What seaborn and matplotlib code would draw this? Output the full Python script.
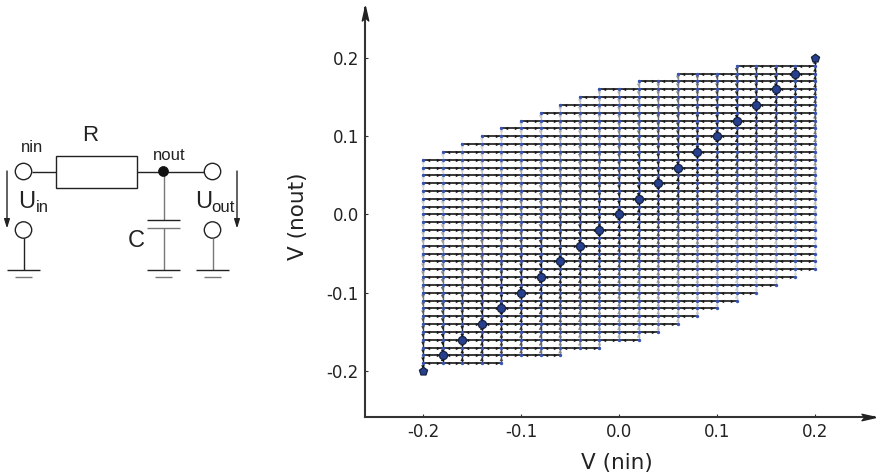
import numpy as np
import pandas as pd
import seaborn as sns
import matplotlib
matplotlib.use("Agg")
import matplotlib.pyplot as plt
from matplotlib.path import Path
from matplotlib.patches import Circle, Rectangle
from matplotlib.colors import LinearSegmentedColormap

# ---- data ----
row_levels = [-0.19, -0.18, -0.17, -0.16, -0.15, -0.14, -0.13, -0.12, -0.11, -0.10,
              -0.09, -0.08, -0.07, -0.06, -0.05, -0.04, -0.03, -0.02, -0.01, 0.00,
              0.01, 0.02, 0.03, 0.04, 0.05, 0.06, 0.07, 0.08, 0.09, 0.10,
              0.11, 0.12, 0.13, 0.14, 0.15, 0.16, 0.17, 0.18, 0.19]
row_start = [-0.20, -0.20, -0.20, -0.20, -0.20, -0.20, -0.20, -0.20, -0.20, -0.20,
             -0.20, -0.20, -0.20, -0.20, -0.20, -0.20, -0.20, -0.20, -0.20, -0.20,
             -0.20, -0.20, -0.20, -0.20, -0.20, -0.20, -0.20, -0.18, -0.16, -0.14,
             -0.12, -0.10, -0.08, -0.06, -0.04, -0.02, 0.02, 0.06, 0.12]
row_end = [-0.12, -0.06, -0.02, 0.02, 0.04, 0.06, 0.08, 0.10, 0.12, 0.14,
           0.16, 0.18, 0.20, 0.20, 0.20, 0.20, 0.20, 0.20, 0.20, 0.20,
           0.20, 0.20, 0.20, 0.20, 0.20, 0.20, 0.20, 0.20, 0.20, 0.20,
           0.20, 0.20, 0.20, 0.20, 0.20, 0.20, 0.20, 0.20, 0.20]
column_levels = [-0.20, -0.18, -0.16, -0.14, -0.12, -0.10, -0.08, -0.06, -0.04, -0.02,
                 0.00, 0.02, 0.04, 0.06, 0.08, 0.10, 0.12, 0.14, 0.16, 0.18, 0.20]
equilibrium_in = [-0.18, -0.16, -0.14, -0.12, -0.10, -0.08, -0.06, -0.04, -0.02,
                  0.00, 0.02, 0.04, 0.06, 0.08, 0.10, 0.12, 0.14, 0.16, 0.18]
equilibrium_out = list(equilibrium_in)
corner_in = [-0.20, 0.20]
corner_out = [-0.20, 0.20]
x_ticks = [-0.2, -0.1, 0.0, 0.1, 0.2]
y_ticks = [-0.2, -0.1, 0.0, 0.1, 0.2]

# ---- tables built from the arrays ----
h_rows, grid_pts, h_heads = [], [], []
for k, (y, a, b) in enumerate(zip(row_levels, row_start, row_end)):
    xs = [c for c in column_levels if a - 1e-9 <= c <= b + 1e-9]
    for x in xs:
        h_rows.append((k, x, y))
        grid_pts.append((x, y))
    for x0, x1 in zip(xs[:-1], xs[1:]):
        h_heads.append((x0 + (x1 - x0) * 0.25, y, "<"))
        h_heads.append((x0 + (x1 - x0) * 0.75, y, ">"))
h_df = pd.DataFrame(h_rows, columns=["row", "x", "y"])
pts_df = pd.DataFrame(grid_pts, columns=["x", "y"])
hh_df = pd.DataFrame(h_heads, columns=["x", "y", "m"])

v_rows, v_heads, sid = [], [], 0
for c in column_levels:
    ys = [y for y, a, b in zip(row_levels, row_start, row_end) if a - 1e-9 <= c <= b + 1e-9]
    if abs(c) > 0.199:
        ys = sorted(set(ys + [c]))
    for y0, y1 in zip(ys[:-1], ys[1:]):
        mid = 0.5 * (y0 + y1)
        s = abs(c - mid)
        v_rows += [(sid, c, y0, s), (sid, c, y1, s)]
        v_heads.append((c, mid, s, "^" if c > mid else "v"))
        sid += 1
v_df = pd.DataFrame(v_rows, columns=["seg", "x", "y", "dist"])
vh_df = pd.DataFrame(v_heads, columns=["x", "y", "dist", "m"])

# ---- figure ----
sns.set_theme(style="white")
plt.rcParams["font.family"] = ["DejaVu Sans"]
plt.rcParams["axes.unicode_minus"] = False
fig = plt.figure(figsize=(8.76, 4.75), dpi=100)
W, H = 876, 475
ax = fig.add_axes([365 / W, 1 - 417 / H, (874 - 365) / W, (417 - 8) / H])

fade = LinearSegmentedColormap.from_list(
    "fade", [(0, "#111111"), (0.17, "#303030"), (0.42, "#808080"), (0.75, "#bdbdbd"), (1, "#dddddd")])
norm = plt.Normalize(0.0, 0.24)

sns.lineplot(data=v_df, x="x", y="y", units="seg", estimator=None, sort=False,
             hue="dist", palette=fade, hue_norm=norm, linewidth=1.0, legend=False, ax=ax, zorder=2)
for m, sub in vh_df.groupby("m"):
    sns.scatterplot(data=sub, x="x", y="y", hue="dist", palette=fade, hue_norm=norm,
                    marker=m, s=7, linewidth=0, legend=False, ax=ax, zorder=2.2)
sns.lineplot(data=h_df, x="x", y="y", units="row", estimator=None, sort=False,
             color="#2a2a2a", linewidth=1.3, legend=False, ax=ax, zorder=3)
for m, sub in hh_df.groupby("m"):
    sns.scatterplot(data=sub, x="x", y="y", color="#1a1a1a", marker=m, s=6, linewidth=0,
                    legend=False, ax=ax, zorder=3.2)
sns.scatterplot(data=pts_df, x="x", y="y", color="#3953b3", marker="o", s=6, linewidth=0,
                legend=False, ax=ax, zorder=4)
sns.scatterplot(x=equilibrium_in, y=equilibrium_out, color="#26408f", marker="o", s=34,
                edgecolor="#14213f", linewidth=0.9, legend=False, ax=ax, zorder=5)
sns.scatterplot(x=corner_in, y=corner_out, color="#26408f", marker="p", s=38,
                edgecolor="#14213f", linewidth=0.9, legend=False, ax=ax, zorder=5)

ax.set_xlim(-0.2592, 0.2602)
ax.set_ylim(-0.2588, 0.2639)
ax.set_xticks(x_ticks)
ax.set_yticks(y_ticks)
ax.set_xticklabels([f"{t:.1f}" for t in x_ticks])
ax.set_yticklabels([f"{t:.1f}" for t in y_ticks])
ax.tick_params(axis="both", direction="in", length=2.2, width=0.8, color="#333333",
               labelsize=12, labelcolor="#222222", left=True, bottom=True)
ax.tick_params(axis="y", pad=4.5)
ax.tick_params(axis="x", pad=4.5)
ax.set_xlabel("")
ax.set_ylabel("")
for name in ("top", "right"):
    ax.spines[name].set_visible(False)
for name in ("left", "bottom"):
    ax.spines[name].set_color("#333333")
    ax.spines[name].set_linewidth(1.5)
ax.patch.set_alpha(0)

head_up = Path([(0, 1), (0.42, -0.85), (0, -0.45), (-0.42, -0.85), (0, 1)],
               [Path.MOVETO, Path.LINETO, Path.LINETO, Path.LINETO, Path.CLOSEPOLY])
head_right = Path([(1, 0), (-0.85, 0.42), (-0.45, 0), (-0.85, -0.42), (1, 0)],
                  [Path.MOVETO, Path.LINETO, Path.LINETO, Path.LINETO, Path.CLOSEPOLY])
ax.plot([0], [0.985], transform=ax.transAxes, marker=head_up, ms=11, color="#222222",
        clip_on=False, zorder=6)
ax.plot([0.988], [0], transform=ax.transAxes, marker=head_right, ms=11, color="#222222",
        clip_on=False, zorder=6)

fig.text(617 / W, 1 - 469 / H, "V (nin)", ha="center", va="baseline", fontsize=15.5, color="#222222")
fig.text(298 / W, 1 - 216 / H, "V (nout)", ha="center", va="center", rotation=90,
         fontsize=15.5, color="#222222")

# ---- circuit schematic in pixel space ----
sc = fig.add_axes([0, 0, 1, 1], zorder=10)
sc.set_xlim(0, W)
sc.set_ylim(H, 0)
sc.axis("off")
sc.patch.set_alpha(0)
dark, mid = "#222222", "#777777"
lw = 1.0


def wire(xs, ys, color=dark):
    sc.plot(xs, ys, color=color, lw=lw, solid_capstyle="butt")


for cx, cy in [(23.5, 171.5), (23.5, 230), (212.5, 171.5), (212.5, 230)]:
    sc.add_patch(Circle((cx, cy), 8.2, fill=False, ec=dark, lw=lw))
wire([31.7, 56], [171.5, 171.5])
sc.add_patch(Rectangle((56, 155.5), 80.5, 32, fill=False, ec=dark, lw=lw))
wire([136.5, 204.3], [171.5, 171.5])
sc.add_patch(Circle((163.5, 171.5), 5, fc="#111111", ec="#111111", lw=0.5, zorder=4))
wire([163.5, 163.5], [171.5, 220], mid)
wire([147, 180], [220, 220])
wire([147, 180], [228, 228], mid)
wire([163.5, 163.5], [228, 269.5], mid)
wire([23.5, 23.5], [238.2, 269.5])
wire([212.5, 212.5], [238.2, 269.5], mid)
for cx in (23.5, 163.5, 212.5):
    wire([cx - 16.5, cx + 16.5], [269.5, 269.5])
    wire([cx - 8.5, cx + 8.5], [277, 277], mid)
for ax_x in (7, 237):
    sc.annotate("", xy=(ax_x, 228.5), xytext=(ax_x, 171),
                arrowprops=dict(arrowstyle="-|>,head_length=0.45,head_width=0.14", color=dark, lw=lw,
                                shrinkA=0, shrinkB=0))

sans = ["Liberation Sans"]
txt = dict(family=sans, color="#222222", va="baseline", ha="left")
sc.text(82, 141, "R", fontsize=16, **txt)
sc.text(21, 152, "nin", fontsize=12, **txt)
sc.text(153, 160, "nout", fontsize=12, **txt)
sc.text(18.5, 208, "U", fontsize=17, **txt)
sc.text(36, 212, "in", fontsize=12, **txt)
sc.text(195, 208, "U", fontsize=17, **txt)
sc.text(211, 212, "out", fontsize=12, **txt)
sc.text(128, 247, "C", fontsize=17, **txt)

fig.savefig("out.png", dpi=100)
